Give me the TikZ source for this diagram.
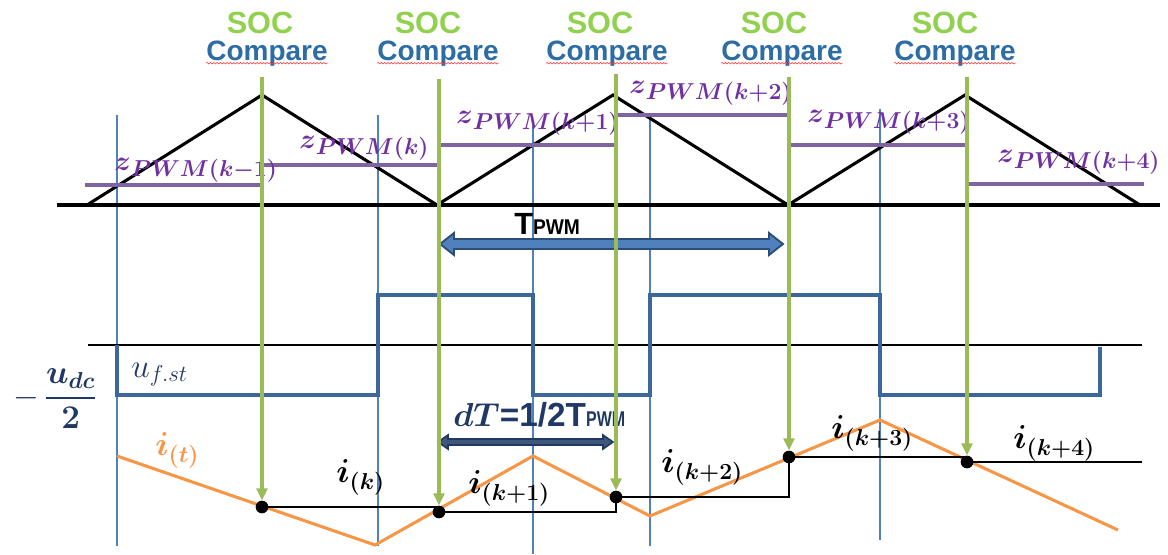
\documentclass[tikz,border=0pt]{standalone}
\usepackage[no-math]{fontspec}
\setmainfont{Liberation Sans}
\usepackage{amsmath,bm,graphicx}
\usetikzlibrary{arrows.meta,decorations.pathmorphing}
\definecolor{socg}{HTML}{92D050}
\definecolor{cmpb}{HTML}{2E6DA4}
\definecolor{arrg}{HTML}{9BBB59}
\definecolor{zpur}{HTML}{7030A0}
\definecolor{zline}{HTML}{8064A2}
\definecolor{vblue}{HTML}{4F81BD}
\definecolor{sqb}{HTML}{3C679A}
\definecolor{ior}{HTML}{F79646}
\definecolor{navy}{HTML}{1F3864}
\definecolor{bfill}{HTML}{4F81BD}
\definecolor{bline}{HTML}{2C4D75}
\newcommand\fsz[1]{\fontsize{#1}{#1}\selectfont}
\newcommand\zlabel[1]{{\fsz{22}$\bm{z}$}\raisebox{-5.2pt}{\fsz{16}$\bm{PWM(#1)}$}}
\newcommand\ilabel[1]{{\fsz{24}$\bm{i}$}\raisebox{-5.5pt}{\fsz{16.5}$\bm{(#1)}$}}
\tikzset{
  thinv/.style={vblue, line width=0.9pt},
  axisline/.style={black, line width=2.4pt},
  tri/.style={black, line width=2.3pt, line join=miter},
  zl/.style={zline, line width=2.3pt},
  sq/.style={sqb, line width=2.4pt},
  cur/.style={ior, line width=2.3pt},
  hold/.style={black, line width=2.1pt},
  socarrow/.style={arrg, line width=2.3pt, -{Triangle[length=9pt,width=8pt]}},
  dotnode/.style={circle, fill=black, inner sep=0pt, minimum size=9.5pt},
  zlab/.style={text=zpur, inner sep=0pt, anchor=base west},
  ilab/.style={inner sep=0pt, anchor=base west},
  soct/.style={text=socg, font=\fsz{23}\bfseries, inner sep=0pt, anchor=base},
  cmpt/.style={text=cmpb, font=\fsz{21}\bfseries, inner sep=0pt, anchor=base},
  squig/.style={red!80!white, line width=0.4pt, decorate, decoration={snake, amplitude=0.6pt, segment length=2.5pt}},
  blockarrow/.style={fill=bfill, draw=bline, line width=1.4pt, line join=miter},
  darkarrow/.style={fill=navy!85!white, draw=navy, line width=1.2pt, line join=miter},
}
\begin{document}
\begin{tikzpicture}[x=0.75pt,y=-0.75pt]
\useasboundingbox (0,0) rectangle (1168,554);

% SOC Compare headers
\foreach \i/\xs/\xc in {1/260/267, 2/428/438, 3/600/607, 4/774/782, 5/945/955}{
  \node[soct] (s\i) at (\xs,33) {SOC};
  \node[cmpt] (c\i) at (\xc,60) {Compare};
  \draw[squig] ([yshift=-2.4pt]c\i.base west) -- ([yshift=-2.4pt]c\i.base east);
}

% thin blue verticals
\draw[thinv] (117,115) -- (117,546);
\draw[thinv] (378,115) -- (378,546);
\draw[thinv] (533,126) -- (533,554);
\draw[thinv] (650,115) -- (650,546);
\draw[thinv] (880,109) -- (880,540);

% carrier
\draw[axisline] (57,205) -- (1160,205);
\draw[tri] (87,205) -- (262,95) -- (437,205) -- (613,95) -- (788,205) -- (965,95) -- (1140,205);

% z levels
\draw[zl] (85,185) -- (262,185);
\draw[zl] (262,165) -- (439,165);
\draw[zl] (439,145) -- (616,145);
\draw[zl] (616,115) -- (789,115);
\draw[zl] (789,145) -- (967,145);
\draw[zl] (967,184) -- (1144,184);
\node[zlab] (z0) at (114,170) {\zlabel{k{-}1}};
\node[zlab] (z1) at (299,148) {\zlabel{k}};
\node[zlab] (z2) at (456,123) {\zlabel{k{+}1}};
\node[zlab] (z3) at (629,93) {\zlabel{k{+}2}};
\node[zlab] (z4) at (807,122) {\zlabel{k{+}3}};
\node[zlab] (z5) at (997,162) {\zlabel{k{+}4}};

% T_PWM arrow
\draw[blockarrow] (440,244) -- (454,233) -- (454,239) -- (769,239) -- (769,233) -- (783,244)
  -- (769,255) -- (769,249) -- (454,249) -- (454,255) -- cycle;
\node[inner sep=0pt, font=\bfseries, anchor=base west] (tpwm) at (514,234)
  {{\fsz{23}T}\scalebox{0.9}[1]{\fsz{16}PWM}};

% voltage
\draw[axisline, line width=2.1pt] (88,345) -- (1142,345);
\draw[sq] (117,345) -- (117,395) -- (378,395) -- (378,295) -- (533,295) -- (533,395) -- (650,395)
  -- (650,295) -- (880,295) -- (880,395) -- (1100,395) -- (1100,347);
\node[text=navy, font=\fsz{24}, inner sep=0pt, anchor=base west] (uf) at (131,377) {$u_{f.st}$};
\node[text=navy, font=\fsz{23}, inner sep=0pt] (udc) at (55,399) {$-\,\dfrac{\bm{u_{dc}}}{\bm{2}}$};

% dT arrow
\draw[darkarrow] (438,442) -- (448,435) -- (448,439) -- (603,439) -- (603,435) -- (613,442)
  -- (603,449) -- (603,445) -- (448,445) -- (448,449) -- cycle;
\node[text=navy, inner sep=0pt, font=\bfseries, anchor=base west] (dt) at (453,426)
  {{\fsz{25}$\bm{dT}$=1/2T}\scalebox{0.75}[1]{\fsz{16}PWM}};

% current
\draw[cur] (117,456) -- (375,545) -- (533,456) -- (650,516) -- (880,420) -- (1118,530);
\node[ilab, text=ior] (it) at (155,455) {\ilabel{t}};

% sample points
\node[dotnode] (d1) at (262,507) {};
\node[dotnode] (d2) at (439,512) {};
\node[dotnode] (d3) at (616,497) {};
\node[dotnode] (d4) at (789,457) {};
\node[dotnode] (d5) at (967,462) {};
\coordinate (hend) at (1142,462);
\draw[hold] (d1.center) -- (d2.center |- d1.center) -- (d2.center) -- (d3.center |- d2.center)
  -- (d3.center) -- (d4.center |- d3.center) -- (d4.center) -- (d5.center |- d4.center)
  -- (d5.center) -- (hend);

\node[ilab] (ik0) at (336,482) {\ilabel{k}};
\node[ilab] (ik1) at (468,493) {\ilabel{k{+}1}};
\node[ilab] (ik2) at (661,472) {\ilabel{k{+}2}};
\node[ilab] (ik3) at (831,438) {\ilabel{k{+}3}};
\node[ilab] (ik4) at (1013,448) {\ilabel{k{+}4}};

% green sampling arrows
\coordinate (g1) at (262,77);
\coordinate (g2) at (439,79);
\coordinate (g3) at (616,74);
\coordinate (g4) at (789,77);
\coordinate (g5) at (967,77);
\foreach \i in {1,...,5}{
  \draw[socarrow] (g\i) -- (d\i.north);
}
\end{tikzpicture}
\end{document}
